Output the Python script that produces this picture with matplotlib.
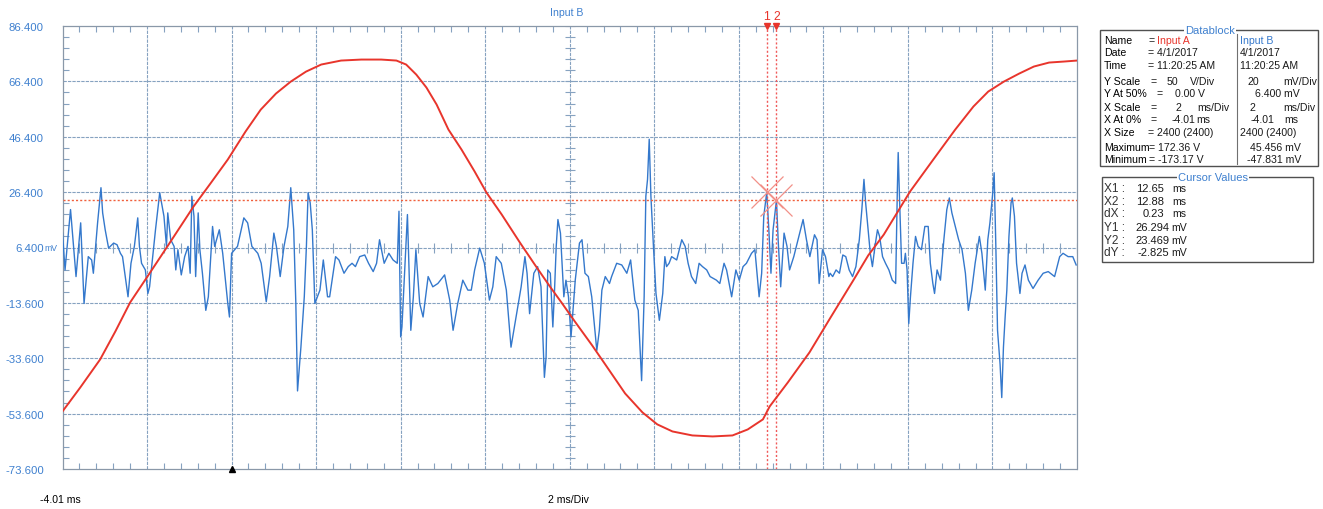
import matplotlib
matplotlib.use("Agg")
import matplotlib.pyplot as plt
from matplotlib.patches import Rectangle
import numpy as np

# ── data ─────────────────────────────────────────────────────────────────────
# Input B (mV), 20 mV/div, 6.4 mV at centre
blue_t = [-4.01, -3.95, -3.82, -3.69, -3.58, -3.50, -3.40, -3.32, -3.28, -3.18,
          -3.10, -3.06, -3.00, -2.92, -2.80, -2.72, -2.64, -2.59, -2.46, -2.39,
          -2.31, -2.23, -2.19, -2.14, -2.05, -1.99, -1.95, -1.81, -1.71, -1.61,
          -1.55, -1.52, -1.45, -1.37, -1.33, -1.28, -1.20, -1.12, -1.04, -0.99,
          -0.95, -0.90, -0.86, -0.80, -0.76, -0.70, -0.62, -0.56, -0.46, -0.41,
          -0.30, -0.22, -0.10, -0.06, -0.01, 0.13, 0.28, 0.37, 0.47, 0.61,
          0.69, 0.81, 0.89, 0.99, 1.05, 1.14, 1.23, 1.32, 1.39, 1.46,
          1.51, 1.55, 1.63, 1.71, 1.76, 1.80, 1.85, 1.90, 1.96, 2.08,
          2.16, 2.26, 2.31, 2.45, 2.53, 2.65, 2.75, 2.84, 2.92, 3.02,
          3.14, 3.23, 3.34, 3.42, 3.49, 3.60, 3.71, 3.81, 3.91, 3.95,
          3.99, 4.02, 4.15, 4.23, 4.29, 4.35, 4.44, 4.52, 4.64, 4.75,
          4.87, 5.03, 5.15, 5.23, 5.34, 5.46, 5.58, 5.66, 5.74, 5.86,
          5.97, 6.09, 6.17, 6.25, 6.37, 6.49, 6.60, 6.72, 6.84, 6.93,
          6.98, 7.04, 7.14, 7.23, 7.31, 7.39, 7.43, 7.47, 7.53, 7.59,
          7.63, 7.67, 7.71, 7.77, 7.85, 7.90, 7.96, 8.02, 8.08,
          8.12, 8.22, 8.28, 8.35, 8.43, 8.51, 8.63, 8.69, 8.75, 8.83,
          8.93, 8.98, 9.10, 9.22, 9.34, 9.43, 9.53, 9.61, 9.69, 9.75,
          9.79, 9.83, 9.87, 9.91, 9.97, 10.03, 10.11, 10.19, 10.24, 10.28,
          10.34, 10.40, 10.52, 10.64, 10.72, 10.79, 10.87, 10.97, 11.05, 11.13,
          11.23, 11.31, 11.46, 11.54, 11.64, 11.70, 11.82, 11.92, 12.00, 12.09,
          12.17, 12.29, 12.37, 12.47, 12.53, 12.58, 12.65, 12.70, 12.75, 12.80,
          12.88, 12.92, 12.98, 13.06, 13.13, 13.19, 13.29, 13.41, 13.51, 13.59,
          13.67, 13.78, 13.84, 13.89, 13.97, 14.04, 14.12,
          14.15, 14.21, 14.29, 14.37, 14.45, 14.52, 14.60, 14.68, 14.76, 14.84,
          14.90, 14.95, 14.99, 15.05, 15.10, 15.15, 15.21, 15.27, 15.32, 15.39,
          15.46, 15.54, 15.62, 15.70, 15.74, 15.76, 15.79, 15.84, 15.90, 15.93,
          15.97, 16.01, 16.05, 16.11, 16.17, 16.23, 16.31, 16.39, 16.47, 16.52,
          16.58, 16.62, 16.68, 16.76, 16.84, 16.91, 16.97, 17.03, 17.11, 17.19,
          17.27, 17.35, 17.42, 17.50, 17.58, 17.68, 17.74, 17.82, 17.88, 17.93,
          17.99, 18.03, 18.07, 18.11, 18.17, 18.21, 18.25, 18.29, 18.33, 18.38,
          18.43, 18.46, 18.51, 18.56, 18.64, 18.69, 18.76, 18.84, 18.95, 19.07,
          19.19, 19.31, 19.46, 19.58, 19.66, 19.78, 19.89, 19.97]
blue_mv = [11.6, -1.7, 20.1, -4.1, 15.3, -13.8, 3.1, 1.9, -2.9, 15.3,
           28.0, 18.9, 12.8, 6.2, 8.0, 7.4, 4.3, 3.1, -11.4, 0.7,
           6.8, 17.1, 6.8, 0.7, -1.7, -10.2, -7.8, 12.8, 26.2, 17.7,
           6.8, 18.9, 9.2, 6.8, -1.7, 5.6, -3.5, 3.1, 6.8, -2.9,
           24.9, 17.7, -4.1, 18.9, 5.6, -2.9, -16.3, -11.4, 14.0, 6.8,
           12.8, 4.3, -13.8, -18.7, 4.3, 6.8, 17.1, 15.3, 6.8, 4.3,
           0.7, -13.2, -4.1, 11.6, 6.8, -4.1, 6.8, 14.0, 28.0, 12.8,
           -13.8, -45.4, -29.6, -11.4, 6.8, 26.2, 22.5, 12.8, -13.8, -9.0,
           1.9, -11.4, -11.4, 3.1, 1.9, -2.9, -0.5, 0.7, -0.5, 3.1,
           3.7, 0.7, -2.3, 0.7, 9.2, 0.7, 4.3, 1.9, 0.7, 19.5,
           -25.9, -22.3, 18.3, -23.5, -11.4, 5.6, -13.8, -18.7, -4.1, -7.8,
           -6.6, -3.5, -12.6, -23.5, -13.8, -5.4, -9.0, -9.0, -1.7, 6.2,
           0.7, -12.6, -7.8, 3.1, 0.7, -9.0, -29.6, -18.7, -7.8, 3.1,
           -2.9, -17.5, -2.9, -0.5, -7.8, -40.5, -33.2, -1.7, -2.9, -22.3,
           -9.0, 6.8, 16.5, 11.6, -11.4, -5.4, -11.4, -25.9, -13.8,
           -5.4, 8.0, 9.2, -2.9, -4.1, -11.4, -30.8, -23.5, -9.0, -4.1,
           -6.6, -4.1, 0.7, 0.1, -2.9, 1.9, -12.6, -16.3, -41.7, -11.4,
           24.9, 31.0, 45.5, 24.9, 6.8, -10.2, -19.9, -10.2, 3.1, -0.5,
           0.7, 3.1, 1.9, 9.2, 6.8, 0.7, -4.1, -6.6, 0.7, -0.5,
           -1.7, -4.1, -5.4, -6.6, 0.7, -1.7, -11.4, -1.7, -5.4, -0.5,
           0.7, 4.3, 5.6, -11.4, -2.9, 17.7, 26.3, 12.8, -2.9, 12.8,
           23.5, 9.2, -7.8, 11.6, 6.8, -1.7, 3.1, 10.4, 16.5, 9.2,
           3.1, 11.0, 9.2, -6.6, 5.6, 3.1, -4.1,
           -2.9, -4.1, -1.7, -2.9, 3.7, 3.1, -1.7, -4.1, -0.5, 9.2,
           20.1, 31.0, 22.5, 12.8, 4.3, -0.5, 6.8, 12.8, 10.4, 3.1,
           0.7, -1.7, -5.4, -6.6, 27.4, 40.7, 24.9, 0.7, 0.7, 4.3,
           -1.7, -21.1, -11.4, 0.7, 10.4, 6.8, 5.6, 14.0, 14.0, 0.7,
           -6.6, -10.2, -1.7, -5.4, 9.2, 20.1, 24.3, 18.9, 14.0, 9.2,
           5.6, -2.9, -16.3, -9.0, 0.7, 10.4, 4.3, -9.0, 9.2, 15.3,
           24.9, 33.4, 6.8, -23.5, -35.7, -47.8, -29.6, -18.7, -9.0, 10.4,
           22.5, 24.3, 17.7, 0.7, -10.2, -2.9, 0.1, -5.4, -8.4, -5.4,
           -2.9, -2.3, -4.1, 3.1, 4.3, 3.1, 3.1, 0.1]

# Input A (V), 50 V/div, 0 V at centre
red_t = [-4.01, -3.59, -3.12, -2.76, -2.41, -2.00, -1.53, -0.91, -0.51, -0.10,
         0.32, 0.68, 1.04, 1.39, 1.75, 2.11, 2.58, 3.06, 3.53, 3.89,
         4.12, 4.36, 4.60, 4.84, 5.12, 5.43, 5.74, 6.02, 6.38, 6.81,
         7.16, 7.52, 7.81, 8.11, 8.52, 8.83, 9.30, 9.71, 10.06, 10.42,
         10.89, 11.37, 11.84, 12.20, 12.56, 12.72, 13.15, 13.66, 14.16, 14.71,
         15.05, 15.42, 16.04, 16.59, 17.11, 17.54, 17.89, 18.26, 18.62, 18.97,
         19.33, 19.68, 19.99]
red_v = [-148.0, -126.4, -101.1, -75.8, -49.6, -26.2, 0.9, 37.0, 57.8, 79.4,
         104.7, 124.5, 139.0, 149.8, 158.8, 165.2, 168.8, 169.7, 169.7, 168.8,
         165.2, 156.1, 144.4, 129.1, 106.5, 88.4, 68.6, 49.6, 29.8, 4.5,
         -15.3, -35.2, -50.5, -66.8, -88.4, -105.6, -131.8, -148.9, -159.7, -166.1,
         -169.7, -170.6, -169.7, -164.3, -155.2, -143.5, -121.8, -94.8, -63.2, -28.9,
         -7.2, 11.7, 50.5, 79.4, 106.5, 127.3, 140.8, 149.8, 157.0, 163.4,
         167.0, 167.9, 168.8]

y_ticks = [86.4, 66.4, 46.4, 26.4, 6.4, -13.6, -33.6, -53.6, -73.6]
y_labels = ["86.400", "66.400", "46.400", "26.400", "6.400", "-13.600",
            "-33.600", "-53.600", "-73.600"]
x_start, x_div, n_div = -4.01, 2.0, 12

cursor_x = [12.65, 12.88]
cursor_y = [26.294, 23.469]

db_rows = ["Name", "Date", "Time", "Y Scale", "Y At 50%", "X Scale",
           "X At 0%", "X Size", "Maximum", "Minimum"]
cv_rows = [("X1 :", "12.65", "ms"), ("X2 :", "12.88", "ms"), ("dX :", "0.23", "ms"),
           ("Y1 :", "26.294", "mV"), ("Y2 :", "23.469", "mV"), ("dY :", "-2.825", "mV")]

# ── styling ──────────────────────────────────────────────────────────────────
W, H = 1323, 510
plt.rcParams["font.family"] = ["Liberation Sans", "DejaVu Sans"]
GRID = "#86a2c0"
BLUE = "#3478cc"
RED = "#e8352c"
LBL = "#3f80cf"
FS = 7.6


def fx(x):
    return x / W


def fy(y):
    return 1 - y / H


def ftext(x, y, s, **kw):
    kw.setdefault("fontsize", FS)
    kw.setdefault("va", "center")
    fig.text(fx(x), fy(y), s, **kw)


fig = plt.figure(figsize=(W / 100, H / 100), dpi=100)
L, R, T, B = 62.5, 1077, 27, 470
ax = fig.add_axes([fx(L), fy(B), (R - L) / W, (B - T) / H])
x_end = x_start + n_div * x_div
ax.set_xlim(x_start, x_end)
ax.set_ylim(-73.6, 86.4)

# grid
for k in range(1, n_div):
    ax.axvline(x_start + k * x_div, color=GRID, lw=0.8, ls=(0, (3, 1)), zorder=1)
for yv in y_ticks[1:-1]:
    ax.axhline(yv, color=GRID, lw=0.8, ls=(0, (3, 1)), zorder=1)
for s in ax.spines.values():
    s.set_color("#8a98a8")
    s.set_linewidth(0.9)
    s.set_linestyle((0, (3, 1)))

# border ticks
ax.set_xticks(np.arange(x_start, x_end + 1e-6, x_div))
ax.set_xticks(np.arange(x_start, x_end + 1e-6, x_div / 5), minor=True)
ax.set_xticklabels([])
ax.set_yticks(y_ticks)
ax.set_yticklabels(y_labels, color=LBL, fontsize=8.2)
ax.set_yticks(np.arange(-73.6, 86.5, 4.0), minor=True)
ax.tick_params(which="major", length=0, pad=13.5)
ax.tick_params(which="minor", direction="in", length=4, color=GRID,
               top=True, right=True, width=0.8)

# centre cross ticks
xc = x_start + 6 * x_div
ax.plot(np.arange(x_start, x_end + 1e-6, x_div / 5), [6.4] * (5 * n_div + 1),
        ls="none", marker="|", ms=7, mew=0.8, color=GRID, zorder=1)
ax.plot([xc] * 41, np.arange(-73.6, 86.5, 4.0), ls="none", marker="_",
        ms=7, mew=0.8, color=GRID, zorder=1)

# traces
ax.plot(blue_t, blue_mv, color=BLUE, lw=1.0, zorder=3)
axr = ax.twinx()
axr.set_ylim(-200, 200)
axr.set_yticks([])
for s in axr.spines.values():
    s.set_visible(False)
axr.plot(red_t, red_v, color=RED, lw=1.4, zorder=4)

# cursors
for cx in cursor_x:
    ax.axvline(cx, color="#f05a5a", lw=1.0, ls=(0, (1.5, 1.5)), zorder=5)
ax.axhline(cursor_y[1], color="#f0603c", lw=1.0, ls=(0, (1.5, 1.5)), zorder=5)
ax.plot(cursor_x, cursor_y, ls="none", marker="x", ms=23, mew=0.9,
        color="#f29088", zorder=6)
ax.plot(cursor_x, [86.4, 86.4], ls="none", marker="v", ms=4, color=RED,
        clip_on=False, zorder=7)
for i, cx in enumerate(cursor_x):
    ax.annotate(str(i + 1), (cx, 86.4), xytext=(0, 7), textcoords="offset points",
                ha="center", va="center", color=RED, fontsize=FS + 1.2,
                annotation_clip=False)
ax.plot([0.0], [-73.6], ls="none", marker="^", ms=4.5, color="black",
        clip_on=False, zorder=7)

# texts around the graticule
ftext(44, 248.5, "mV", fontsize=FS - 1.4, color=LBL, ha="left")
ftext(567, 13, "Input B", color=LBL, ha="center")
ftext(40, 500, "-4.01 ms", ha="left")
ftext(548, 500, "2 ms/Div", ha="left")

# ── databloc ────────────────────────────────────────────────────────────────
fig.patches.append(Rectangle((fx(1100), fy(167)), (1318 - 1100) / W, (167 - 31) / H,
                             transform=fig.transFigure, fill=False,
                             edgecolor="#505050", lw=1.0))
fig.lines.append(plt.Line2D([fx(1237), fx(1237)], [fy(35), fy(165)],
                            transform=fig.transFigure, color="#707070", lw=0.8))
ftext(1210, 31, "Datablock", color=LBL, ha="center", fontsize=FS + 0.4,
      bbox=dict(facecolor="white", edgecolor="none", pad=1))
rows_y = [41, 53, 66, 82, 94, 108, 120, 133, 148, 160]
for lab, yy in zip(db_rows, rows_y):
    ftext(1104, yy, lab)
colA = [[(1148, "="), (1157, "Input A", RED)],
        [(1148, "= 4/1/2017")],
        [(1148, "= 11:20:25 AM")],
        [(1150, "="), (1167, "50"), (1190, "V/Div")],
        [(1156, "="), (1175, "0.00 V")],
        [(1150, "="), (1175, "2"), (1197, "ms/Div")],
        [(1150, "="), (1172, "-4.01"), (1196, "ms")],
        [(1148, "= 2400 (2400)")],
        [(1149, "= 172.36 V")],
        [(1149, "= -173.17 V")]]
colB = [[(1240, "Input B", BLUE)],
        [(1240, "4/1/2017")],
        [(1240, "11:20:25 AM")],
        [(1248, "20"), (1283, "mV/Div")],
        [(1255, "6.400 mV")],
        [(1250, "2"), (1283, "ms/Div")],
        [(1251, "-4.01"), (1284, "ms")],
        [(1240, "2400 (2400)")],
        [(1250, "45.456 mV")],
        [(1247, "-47.831 mV")]]
for yy, ca, cb in zip(rows_y, colA, colB):
    for item in ca + cb:
        col = item[2] if len(item) > 2 else "#1a1a1a"
        ftext(item[0], yy, item[1], color=col, ha="left")

# ── cursor values ───────────────────────────────────────────────────────────
fig.patches.append(Rectangle((fx(1102), fy(263)), (1313 - 1102) / W, (263 - 178) / H,
                             transform=fig.transFigure, fill=False,
                             edgecolor="#505050", lw=1.0))
ftext(1213, 178, "Cursor Values", color=LBL, ha="center", fontsize=FS + 0.4,
      bbox=dict(facecolor="white", edgecolor="none", pad=1))
cv_y = [189, 202, 214, 228, 241, 253]
for (lab, val, unit), yy in zip(cv_rows, cv_y):
    ftext(1104, yy, lab, fontsize=FS + 1, color="#333333")
    xr = 1164 if unit == "ms" else 1169
    ftext(xr, yy, val, ha="right", fontsize=FS + 0.4, color="#1a1a1a")
    ftext(1172 if unit == "ms" else 1171, yy, unit, ha="left", color="#1a1a1a")

fig.savefig("out.png", dpi=100, facecolor="white")
